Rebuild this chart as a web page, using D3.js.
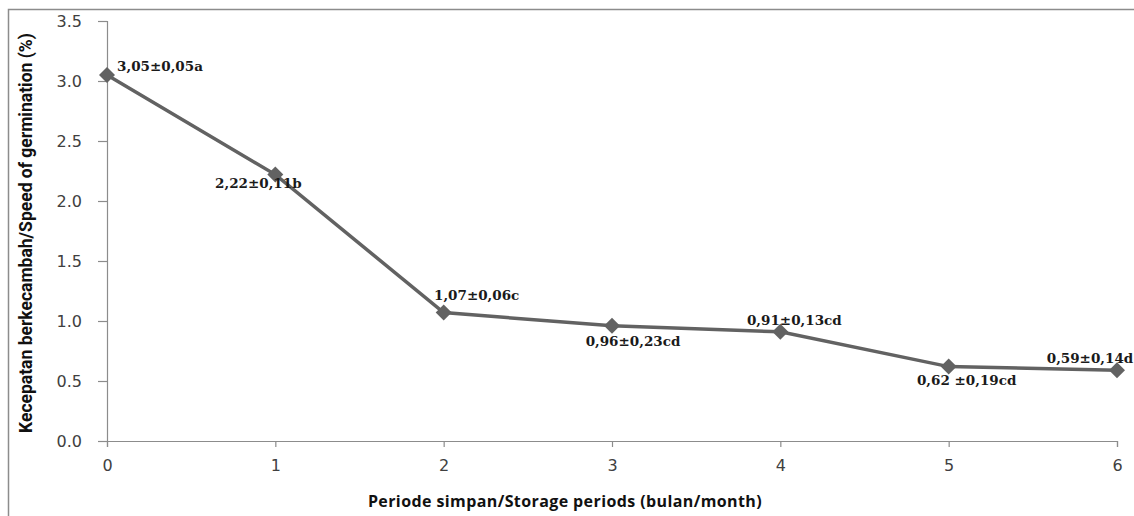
<!DOCTYPE html>
<html>
<head>
<meta charset="utf-8">
<script src="https://cdn.jsdelivr.net/npm/d3@7"></script>
<style>
  body { margin: 0; background: #fff; }
</style>
</head>
<body>
<div id="chart"></div>
<script>
// storage period (month) and speed of germination
var months = [0, 1, 2, 3, 4, 5, 6];
var speed = [3.05, 2.22, 1.07, 0.96, 0.91, 0.62, 0.59];
var labels = ["3,05\u00b10,05a", "2,22\u00b10,11b", "1,07\u00b10,06c", "0,96\u00b10,23cd",
              "0,91\u00b10,13cd", "0,62 \u00b10,19cd", "0,59\u00b10,14d"];
var yTicks = [0, 0.5, 1, 1.5, 2, 2.5, 3, 3.5];

// where each data label sits relative to its point (text center, baseline)
var labelOffsets = [[53, -4], [-17, 13], [33, -13], [21, 20], [14, -7], [18, 18], [-27, -7]];

var width = 1134, height = 516;
var margin = {top: 21, right: 17, bottom: 75, left: 107};

var svg = d3.select("#chart")
  .append("svg")
    .attr("width", width)
    .attr("height", height);

// outer frame (cut off at right/bottom like the source)
svg.append("path")
  .attr("d", "M8.5,516 L8.5,9.5 L1134,9.5")
  .attr("fill", "none")
  .attr("stroke", "#8c8c8c")
  .attr("stroke-width", 1.5);

var x = d3.scaleLinear()
  .domain([0, 6])
  .range([margin.left, width - margin.right]);

var y = d3.scaleLinear()
  .domain([0, 3.5])
  .range([height - margin.bottom, margin.top]);

var xAxis = svg.append("g")
  .attr("transform", "translate(0," + y(0) + ")")
  .call(d3.axisBottom(x).tickValues(months).tickSize(6).tickPadding(13).tickFormat(d3.format("d")));

var yAxis = svg.append("g")
  .attr("transform", "translate(" + x(0) + ",0)")
  .call(d3.axisLeft(y).tickValues(yTicks).tickSize(9).tickPadding(16).tickFormat(d3.format(".1f")));

[xAxis, yAxis].forEach(function(a) {
  a.select(".domain").attr("stroke", "#8c8c8c").attr("stroke-width", 1.2);
  a.selectAll(".tick line").attr("stroke", "#8c8c8c").attr("stroke-width", 1.2);
  a.selectAll(".tick text")
    .attr("fill", "#404040")
    .style("font-family", "'DejaVu Sans', Verdana, sans-serif")
    .style("font-size", "16px");
});
yAxis.selectAll(".tick text").attr("dy", "0.36em");

// the line
var line = d3.line()
  .x(function(d, i) { return x(months[i]); })
  .y(function(d) { return y(d); });

svg.append("path")
  .datum(speed)
  .attr("d", line)
  .attr("fill", "none")
  .attr("stroke", "#626262")
  .attr("stroke-width", 3.5);

svg.selectAll(".pt")
  .data(speed)
  .enter()
  .append("path")
    .attr("class", "pt")
    .attr("d", "M0,-8 L8,0 L0,8 L-8,0 Z")
    .attr("fill", "#626262")
    .attr("transform", function(d, i) { return "translate(" + x(months[i]) + "," + y(d) + ")"; });

// data labels
svg.selectAll(".lbl")
  .data(labels)
  .enter()
  .append("text")
    .attr("class", "lbl")
    .attr("x", function(d, i) { return x(months[i]) + labelOffsets[i][0]; })
    .attr("y", function(d, i) { return y(speed[i]) + labelOffsets[i][1]; })
    .attr("text-anchor", "middle")
    .style("font-family", "'DejaVu Serif', 'Liberation Serif', serif")
    .style("font-weight", "bold")
    .style("font-size", "13.5px")
    .attr("fill", "#1a1a1a")
    .text(function(d) { return d; });

// axis titles
svg.append("text")
  .attr("x", 565)
  .attr("y", 507)
  .attr("text-anchor", "middle")
  .style("font-family", "'Open Sans', 'DejaVu Sans', sans-serif")
  .style("font-weight", "bold")
  .style("font-size", "16px")
  .style("letter-spacing", "0.4px")
  .attr("fill", "#111")
  .text("Periode simpan/Storage periods (bulan/month)");

svg.append("text")
  .attr("transform", "translate(32," + ((y(0) + y(3.5)) / 2 + 2) + ") rotate(-90)")
  .attr("text-anchor", "middle")
  .style("font-family", "'Liberation Sans Narrow', 'Roboto', sans-serif")
  .style("font-weight", "bold")
  .style("font-size", "17.5px")
  .attr("fill", "#111")
  .text("Kecepatan berkecambah/Speed of germination (%)");
</script>
</body>
</html>
